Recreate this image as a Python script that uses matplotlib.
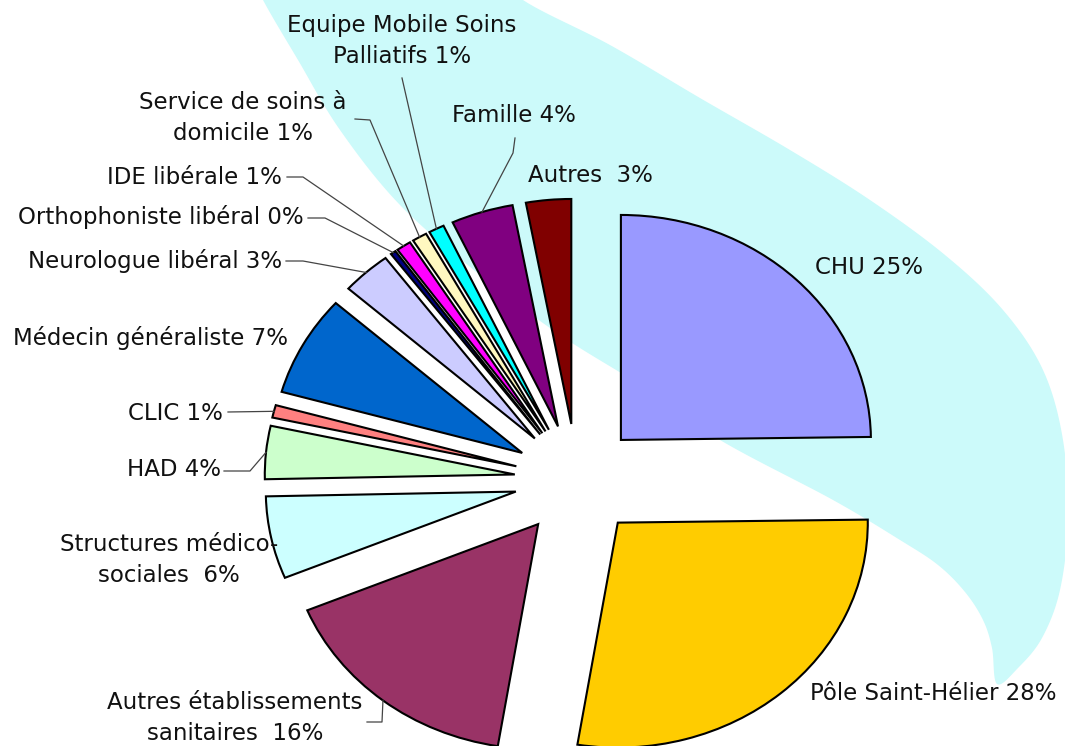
import numpy as np
import matplotlib
matplotlib.use("Agg")
import matplotlib.pyplot as plt

# ---------------- data ----------------
categories = ["CHU", "Pôle Saint-Hélier", "Autres établissements sanitaires",
              "Structures médico-sociales", "HAD", "CLIC", "Médecin généraliste",
              "Neurologue libéral", "Orthophoniste libéral", "IDE libérale",
              "Service de soins à domicile", "Equipe Mobile Soins Palliatifs",
              "Famille", "Autres"]
shares = [24.7, 27.7, 16.1, 5.9, 3.8, 0.9, 7.2, 3.2, 0.35, 0.95, 0.95, 1.0, 4.0, 2.9]
pct_labels = [25, 28, 16, 6, 4, 1, 7, 3, 0, 1, 1, 1, 4, 3]
label_names = ["CHU ", "Pôle Saint-Hélier ", "Autres établissements\nsanitaires  ",
               "Structures médico-\nsociales  ", "HAD ", "CLIC ", "Médecin généraliste ",
               "Neurologue libéral ", "Orthophoniste libéral ", "IDE libérale ",
               "Service de soins à\ndomicile ", "Equipe Mobile Soins\nPalliatifs ",
               "Famille ", "Autres  "]
colors = ["#9999FF", "#FFCC00", "#993366", "#CCFFFF", "#CCFFCC", "#FF8080",
          "#0066CC", "#CCCCFF", "#000080", "#FF00FF", "#FFF8C0", "#00FFFF",
          "#800080", "#800000"]

# ---------------- layout ----------------
W, H = 1065, 746
CX, CY = 577, 480      # pie centre in pixels
SX, SY = 250, 225      # pixels per unit radius (horizontal / vertical)


def px(x, y):
    return ((x - CX) / SX, (CY - y) / SY)


fig = plt.figure(figsize=(W / 100, H / 100), dpi=100)
ax = fig.add_axes([0, 0, 1, 1])

# background swoosh
swoosh_px = [(480, -40), (523, 0), (610, 45), (700, 98), (790, 150), (870, 200),
             (945, 255), (1003, 310), (1043, 370), (1063, 440), (1068, 520),
             (1060, 590), (1042, 638), (1018, 668), (997, 684), (992, 648),
             (983, 620), (965, 592), (938, 565), (900, 540), (833, 500),
             (720, 440), (640, 385), (560, 335), (480, 275), (400, 205),
             (340, 130), (298, 60), (263, 0), (245, -40)]


def catmull_closed(pts, n=24):
    P = np.asarray(pts, float)
    N = len(P)
    out = []
    t = np.linspace(0, 1, n, endpoint=False)[:, None]
    for i in range(N):
        p0, p1, p2, p3 = P[i - 1], P[i], P[(i + 1) % N], P[(i + 2) % N]
        seg = 0.5 * ((2 * p1) + (-p0 + p2) * t + (2 * p0 - 5 * p1 + 4 * p2 - p3) * t ** 2
                     + (-p0 + 3 * p1 - 3 * p2 + p3) * t ** 3)
        out.append(seg)
    return np.vstack(out)


curve = catmull_closed(swoosh_px)
cd = np.array([px(x, y) for x, y in curve])
ax.fill(cd[:, 0], cd[:, 1], color="#CCFAFA", lw=0, zorder=0)

wedges, _ = ax.pie(shares, explode=[0.25] * len(shares), colors=colors,
                   startangle=90, counterclock=False, radius=1.0,
                   wedgeprops=dict(edgecolor="black", linewidth=1.5))
for w in wedges:
    w.set_zorder(2)
ax.set_aspect("auto")
ax.set_xlim(px(0, 0)[0], px(W, 0)[0])
ax.set_ylim(px(0, H)[1], px(0, 0)[1])
ax.axis("off")

# label placement (pixel centre / anchor, alignment)
label_pos = {
    0: (869, 267, "center"),
    1: (933, 693, "center"),
    2: (235, 718, "center"),
    3: (169, 560, "center"),
    4: (221, 470, "right"),
    5: (223, 413, "right"),
    6: (288, 338, "right"),
    7: (282, 261, "right"),
    8: (304, 217, "right"),
    9: (282, 177, "right"),
    10: (243, 118, "center"),
    11: (402, 41, "center"),
    12: (514, 116, "center"),
    13: (590, 176, "center"),
}
leaders = {
    2: [(367, 722), (382, 722)],
    4: [(224, 471), (250, 471)],
    5: [(228, 412)],
    7: [(286, 261), (303, 261)],
    8: [(308, 218), (325, 218)],
    9: [(287, 177), (303, 177)],
    10: [(355, 119), (370, 120)],
    11: [(402, 78)],
    12: [(515, 138), (513, 153)],
}

for i, name in enumerate(label_names):
    x, y, ha = label_pos[i]
    ax.text(*px(x, y), f"{name}{pct_labels[i]}%", ha=ha, va="center",
            fontsize=16.5, family="DejaVu Sans", color="#111111",
            linespacing=1.4, multialignment="center", zorder=4)

for i, pts in leaders.items():
    w = wedges[i]
    tm = np.deg2rad(0.5 * (w.theta1 + w.theta2))
    ex = w.center[0] + w.r * np.cos(tm)
    ey = w.center[1] + w.r * np.sin(tm)
    xs = [px(x, y)[0] for x, y in pts] + [ex]
    ys = [px(x, y)[1] for x, y in pts] + [ey]
    ax.plot(xs, ys, color="#444444", lw=0.9, zorder=3)

fig.savefig("out.png", dpi=100, facecolor="white")
